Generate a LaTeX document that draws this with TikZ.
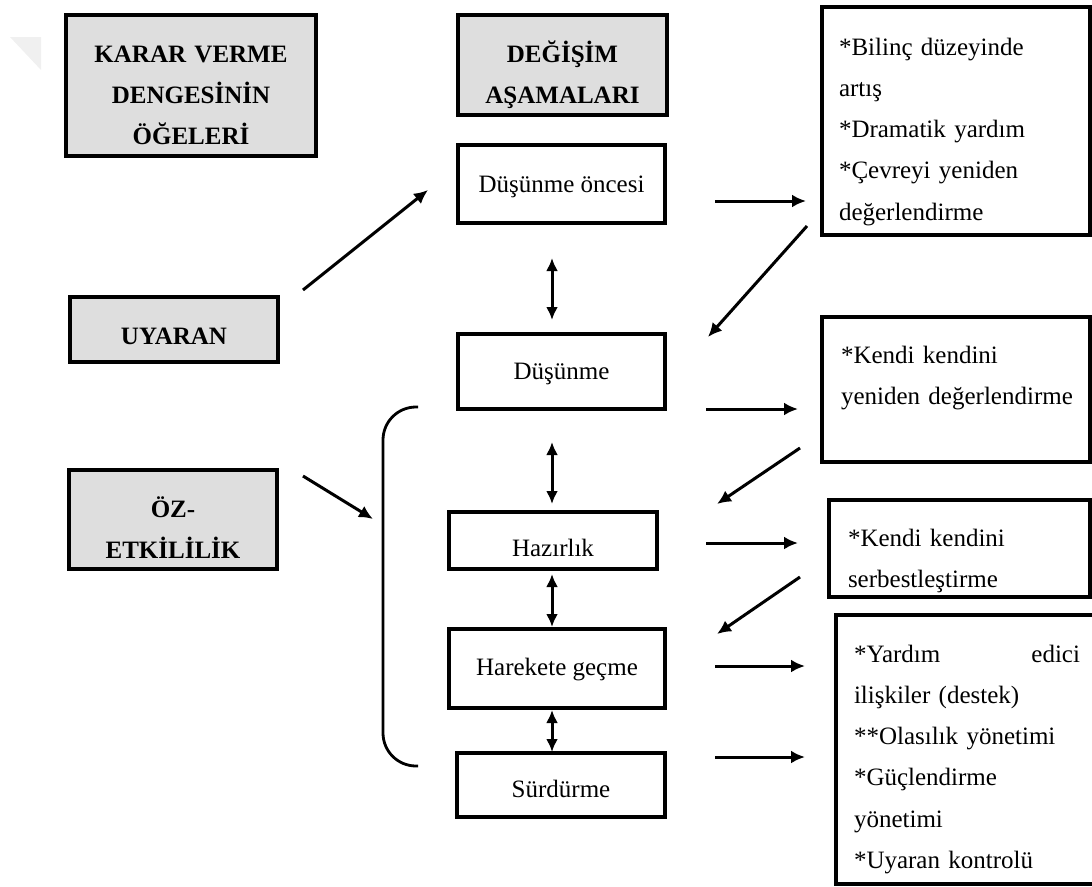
\documentclass[tikz,border=0pt]{standalone}
\usepackage{fontspec}
\setmainfont{Liberation Serif}
\usepackage{tikz}
\usetikzlibrary{calc,arrows.meta}
\newcommand{\boxfont}{\fontsize{25}{41.3}\selectfont}
\tikzstyle{box}=[draw, line width=3.2pt, inner sep=0pt, outer sep=0pt, anchor=north west, font=\boxfont]
\tikzstyle{shaded}=[box, fill=black!13, align=center, font=\boxfont\bfseries]
\tikzstyle{stage}=[box, fill=white, align=center]
\tikzstyle{listbox}=[box, fill=white, align=left]
\tikzstyle{arr}=[line width=3pt, -{Latex[length=14pt,width=13pt]}]
\tikzstyle{dblarr}=[line width=3pt, {Latex[length=13pt,width=12pt]}-{Latex[length=13pt,width=12pt]}]
\tikzstyle{brace}=[line width=2.8pt, rounded corners=33pt]

\begin{document}
\begin{tikzpicture}[x=1pt,y=-1pt]
	\useasboundingbox (0,0) rectangle (1092,886);
	\fill[black!6] (10,37) -- (41,37) -- (41,70) -- cycle;
	\node[shaded, text width=250pt, text height=47pt, text depth=94pt] (karar) at (66,15) {KARAR VERME\\DENGESİNİN\\ÖĞELERİ};
	\node[shaded, minimum width=208pt, text height=47pt, text depth=18pt] (uyaran) at (70,297) {UYARAN};
	\node[shaded, text width=208pt, text height=47pt, text depth=52pt] (oz) at (69,470) {ÖZ-\\ETKİLİLİK};
	\node[shaded, text width=209pt, text height=47pt, text depth=53pt] (degisim) at (458,15) {DEĞİŞİM\\AŞAMALARI};
	\node[stage, minimum width=207pt, text height=47pt, text depth=31pt] (dus1) at (458,145) {Düşünme öncesi};
	\node[stage, minimum width=207pt, text height=45pt, text depth=30pt] (dus2) at (458,334) {Düşünme};
	\node[stage, minimum width=208pt, text height=44pt, text depth=13pt] (hazir) at (449,512) {Hazırlık};
	\node[stage, minimum width=216pt, text height=46pt, text depth=33pt] (harek) at (449,629) {Harekete geçme};
	\node[stage, minimum width=208pt, text height=44pt, text depth=20pt] (surd) at (457,753) {Sürdürme};
	\node[listbox, inner xsep=17pt, text width=234pt, text height=48pt, text depth=180pt] (list1) at (822,7) {*Bilinç düzeyinde\\artış\\{*}Dramatik yardım\\{*}Çevreyi yeniden\\değerlendirme};
	\node[listbox, inner xsep=19pt, text width=230pt, text height=46pt, text depth=99pt] (list2) at (822,317) {*Kendi kendini\\\mbox{yeniden değerlendirme}};
	\node[listbox, inner xsep=19pt, text width=223pt, text height=46pt, text depth=51pt] (list3) at (829,500) {*Kendi kendini\\serbestleştirme};
	\node[listbox, inner xsep=18pt, text width=226pt, text height=47pt, text depth=222pt] (list4) at (836,615) {*Yardım \hfill edici\\ilişkiler (destek)\\{**}Olasılık yönetimi\\{*}Güçlendirme\\yönetimi\\{*}Uyaran kontrolü};
	\coordinate (brtop) at (418,407);
	\coordinate (brbot) at (418,766);
	\draw[brace] (brtop) -- (383,407) -- (383,766) -- (brbot);
	\draw[arr] ($(uyaran.north east)+(25,-7)$) -- ($(dus1.west)+(-30,6)$);
	\draw[arr] ($(oz.north east)+(26,6)$) -- ($(brtop)+(-45,112)$);
	\draw[arr] ($(dus1.east)+(50,17)$) -- ($(list1.west)+(-16,80)$);
	\draw[arr] ($(list1.south west)+(-15,-9)$) -- ($(dus2.north east)+(43,3)$);
	\draw[arr] ($(dus2.south east)+(41,0)$) -- ($(list2.west)+(-24,19.5)$);
	\draw[arr] ($(list2.south west)+(-22,-14)$) -- ($(hazir.north east)+(60,-8)$);
	\draw[arr] ($(hazir.east)+(49,2.5)$) -- ($(list3.west)+(-31,-5.5)$);
	\draw[arr] ($(list3.west)+(-29,28.5)$) -- ($(harek.north east)+(52,5)$);
	\draw[arr] ($(harek.east)+(50,-2.5)$) -- ($(list4.west)+(-31,-83.5)$);
	\draw[arr] ($(surd.east)+(50,-28)$) -- ($(list4.west)+(-31,7.5)$);
	\draw[dblarr] ($(dus1.south)+(-9.5,35)$) -- ($(dus2.north)+(-9.5,-14)$);
	\draw[dblarr] ($(dus2.south)+(-9.5,33)$) -- ($(hazir.north)+(-1,-8)$);
	\draw[dblarr] ($(hazir.south)+(-1,5)$) -- ($(harek.north)+(-5,-2)$);
	\draw[dblarr] ($(harek.south)+(-5,2)$) -- ($(surd.north)+(-9,-1)$);
\end{tikzpicture}
\end{document}
